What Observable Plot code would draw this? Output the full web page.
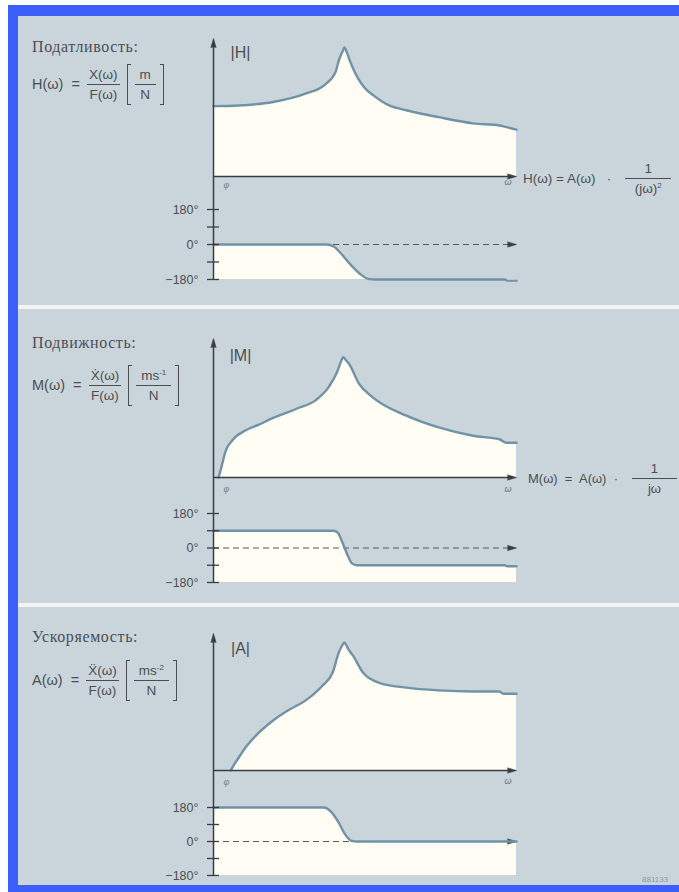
<!DOCTYPE html>
<html>
<head>
<meta charset="utf-8">
<script src="https://cdn.jsdelivr.net/npm/d3@7"></script>
<script src="https://cdn.jsdelivr.net/npm/@observablehq/plot@0.6"></script>
<style>
  body { margin:0; background:#fff; width:679px; height:892px; overflow:hidden; position:relative;
         font-family:"Liberation Sans", Arial, sans-serif; }
  #frame { position:absolute; left:8px; top:5px; width:671px; height:887px; background:#3c5ffb; }
  #inner { position:absolute; left:18px; top:16px; width:661px; height:869px; background:#f2f5f6; }
  .panel { position:absolute; left:0; width:661px; background:#cad5db; overflow:hidden; }
  .panel svg { position:absolute; left:0; top:0; overflow:visible; }
  .title { position:absolute; font-family:"Liberation Serif","DejaVu Serif",serif; font-size:16px; letter-spacing:0.6px; color:#4a4e51; white-space:nowrap; }
  .formula { position:absolute; display:flex; align-items:center; font-size:13px; color:#4a4e51; white-space:nowrap; }
  .formula.lf { font-size:14.5px; }
  .frac { display:inline-flex; flex-direction:column; align-items:center; margin:0 3px; }
  .frac .num { border-bottom:1px solid #4a4e51; padding:0 2px 2px; line-height:15px; }
  .frac .den { padding:2px 2px 0; line-height:15px; }
  .lf .frac { font-size:13.5px; }
  .bracket { position:relative; display:inline-flex; padding:0 5px; margin-left:4px; }
  .bracket::before, .bracket::after { content:""; position:absolute; top:-3px; bottom:-3px; width:3px; border:1px solid #4a4e51; }
  .bracket::before { left:0; border-right:none; }
  .bracket::after { right:0; border-left:none; }
  .bracket .frac .num { padding:0 5px 2px; }
  .wide .num { padding:0 19px 2px !important; }
  sup { font-size:8px; line-height:0; }
  .tiny { position:absolute; font-size:8px; color:#8b959b; }
</style>
</head>
<body>
<div id="frame"></div>
<div id="inner"></div>
<script>
// ---------- data (ω in arbitrary units 0..30, magnitude relative to axis top = 1) ----------
const hMagOmega = [0, 2.5, 5.9, 9.1, 11.1, 12.1, 12.4, 12.8, 12.95, 13.2, 13.5, 13.9, 14.4, 15.0, 15.8, 17.4, 19.1, 22.3, 25.7, 28.3, 28.9, 30];
const hMag      = [0.51, 0.515, 0.54, 0.60, 0.67, 0.76, 0.84, 0.91, 0.935, 0.90, 0.84, 0.77, 0.70, 0.64, 0.59, 0.515, 0.48, 0.43, 0.385, 0.37, 0.36, 0.34];

const mMagOmega = [0.5, 0.8, 1.2, 1.9, 3.2, 4.5, 5.8, 7.4, 8.4, 10.1, 11.4, 12.3, 12.6, 12.85, 13.1, 13.4, 14.4, 15.8, 19.1, 22.3, 25.7, 28.3, 29.0, 30];
const mMag      = [0, 0.08, 0.19, 0.27, 0.34, 0.38, 0.425, 0.47, 0.50, 0.555, 0.65, 0.77, 0.83, 0.865, 0.845, 0.82, 0.675, 0.575, 0.445, 0.36, 0.30, 0.275, 0.25, 0.25];

const aMagOmega = [1.7, 2.1, 2.5, 3.3, 4.2, 5.9, 7.4, 9.1, 10.8, 11.8, 12.4, 12.8, 12.95, 13.1, 13.4, 13.8, 14.8, 16.4, 19.1, 22.3, 25.7, 28.3, 28.7, 30];
const aMag      = [0, 0.05, 0.095, 0.18, 0.255, 0.365, 0.44, 0.51, 0.62, 0.715, 0.86, 0.92, 0.935, 0.92, 0.88, 0.84, 0.715, 0.64, 0.605, 0.585, 0.577, 0.577, 0.56, 0.56];

// phase in degrees
const hPhaseOmega = [0, 11.2, 11.9, 12.6, 13.6, 14.6, 15.4, 16.0, 28.8, 29.1, 30];
const hPhase      = [0, 0, -10, -45, -105, -155, -178, -180, -180, -186, -186];
const mPhaseOmega = [0, 11.9, 12.3, 12.8, 13.3, 13.7, 14.2, 28.8, 29.1, 30];
const mPhase      = [90, 90, 80, 25, -40, -80, -90, -90, -95, -95];
const aPhaseOmega = [0, 10.9, 11.6, 12.4, 13.0, 13.6, 14.2, 30];
const aPhase      = [180, 180, 160, 100, 40, 5, 0, 0];

const phaseTicks = [180, 90, 0, -90, -180];
const phaseTickLabels = ["180°", "", "0°", "", "−180°"];
const omegaDomain = [0, 30];

const titles = ["Податливость:", "Подвижность:", "Ускоряемость:"];
const magLabels = ["|H|", "|M|", "|A|"];

// ---------- styles ----------
const CREAM = "#fffdf4", CURVE = "#7092a6", AXIS = "#3a3d40", TXT = "#4a4e51";
const W = 661;

const zip = (xs, ys, k) => xs.map((x, i) => ({w: x, [k]: ys[i]}));

const panels = [
  {top:16, height:289, magTop:22, magBottom:129, phTop:193, phBottom:26, ext:33,
   mag: zip(hMagOmega, hMag, "v"), ph: zip(hPhaseOmega, hPhase, "p"),
   labDy: 8, phiDy: 11, omDy: 8},
  {top:309, height:294, magTop:29, magBottom:126, phTop:204, phBottom:21, ext:36,
   mag: zip(mMagOmega, mMag, "v"), ph: zip(mPhaseOmega, mPhase, "p"),
   labDy: 11, phiDy: 14, omDy: 14},
  {top:607, height:278, magTop:26, magBottom:115, phTop:200, phBottom:10, ext:37,
   mag: zip(aMagOmega, aMag, "v"), ph: zip(aPhaseOmega, aPhase, "p"),
   labDy: 9, phiDy: 14, omDy: 13}
];

function head(x, y, dir) {
  if (typeof Plot.spike === "function") {
    return Plot.vector([{x, y}], {x: "x", y: "y", shape: "spike", anchor: "end",
      length: 9, r: 2.6, rotate: dir === "up" ? 0 : 90, fill: AXIS, stroke: AXIS, strokeWidth: 0.6});
  }
  return Plot.text([{x, y}], {x: "x", y: "y", text: () => dir === "up" ? "▲" : "▶",
    fontSize: 8, fill: AXIS, dx: dir === "up" ? 0 : -3, dy: dir === "up" ? 3 : 0});
}

const inner = document.getElementById("inner");

panels.forEach((cfg, i) => {
  const div = document.createElement("div");
  div.className = "panel";
  div.style.top = (cfg.top - 16) + "px";
  div.style.height = cfg.height + "px";
  inner.appendChild(div);

  const common = {
    width: W, height: cfg.height, marginLeft: 195, marginRight: 163,
    style: {background: "transparent", fontFamily: "Liberation Sans, Arial, sans-serif", overflow: "visible"},
    x: {domain: omegaDomain, axis: null}
  };

  // vertical axis continues from the magnitude axis down through the phase scale
  const degPerPx = 360 / (cfg.height - cfg.phTop - cfg.phBottom);
  const axisTopPhase = 180 + cfg.ext * degPerPx;

  const mag = Plot.plot({
    ...common,
    marginTop: cfg.magTop, marginBottom: cfg.magBottom,
    y: {domain: [0, 1], axis: null},
    marks: [
      Plot.areaY(cfg.mag, {x: "w", y: "v", fill: CREAM, curve: "monotone-x"}),
      Plot.line(cfg.mag, {x: "w", y: "v", stroke: CURVE, strokeWidth: 2.4, curve: "monotone-x"}),
      Plot.ruleY([0], {x1: 0, x2: 29.4, stroke: AXIS, strokeWidth: 1.5}),
      head(30, 0, "right"),
      Plot.ruleX([0], {y1: 0, y2: 0.95, stroke: AXIS, strokeWidth: 1.5}),
      head(0, 1, "up"),
      Plot.text([magLabels[i]], {frameAnchor: "top-left", dx: 27, dy: cfg.labDy, fontSize: 16, fill: TXT, textAnchor: "middle"}),
      Plot.text(["φ"], {frameAnchor: "bottom-left", dx: 10, dy: cfg.phiDy, fontSize: 9, fill: "#7a8185", fontStyle: "italic"}),
      Plot.text(["ω"], {frameAnchor: "bottom-right", dx: -5, dy: cfg.omDy, fontSize: 9, fill: "#6a7175", fontStyle: "italic"})
    ]
  });

  const ph = Plot.plot({
    ...common,
    marginTop: cfg.phTop, marginBottom: cfg.phBottom,
    y: {domain: [-180, 180]},
    marks: [
      Plot.areaY(cfg.ph, {x: "w", y1: -180, y2: "p", fill: CREAM, curve: "monotone-x"}),
      Plot.ruleY([0], {x1: 0, x2: 29.4, stroke: "#555a5e", strokeWidth: 1.1, strokeDasharray: "6,4"}),
      head(30, 0, "right"),
      Plot.line(cfg.ph, {x: "w", y: "p", stroke: CURVE, strokeWidth: 2.4, curve: "monotone-x"}),
      Plot.ruleX([0], {y1: -180, y2: axisTopPhase, stroke: AXIS, strokeWidth: 1.5}),
      Plot.axisY(phaseTicks, {anchor: "left", tickSize: 12, dx: 6, tickPadding: 9,
        tickFormat: (d, k) => phaseTickLabels[k], fontSize: 12.5, fill: TXT, stroke: AXIS, strokeWidth: 1.3, label: null})
    ]
  });

  div.appendChild(mag);
  div.appendChild(ph);
});

// ---------- formula texts ----------
function addHTML(panelIdx, html) {
  inner.children[panelIdx].insertAdjacentHTML("beforeend", html);
}
const frac = (a, b, cls = "") => `<span class="frac ${cls}"><span class="num">${a}</span><span class="den">${b}</span></span>`;

addHTML(0, `<div class="title" style="left:14px;top:22px">${titles[0]}</div>
  <div class="formula lf" style="left:14px;top:48px;height:40px"><span>H(ω) &nbsp;=&nbsp;</span>${frac("X(ω)", "F(ω)")}<span class="bracket">${frac("m", "N")}</span></div>
  <div class="formula" style="left:505px;top:142px;height:40px;font-size:13.5px"><span>H(ω) = A(ω) &nbsp;&nbsp;·&nbsp;&nbsp;&nbsp;</span>${frac("1", "(jω)<sup>2</sup>", "wide")}</div>`);

addHTML(1, `<div class="title" style="left:14px;top:25px">${titles[1]}</div>
  <div class="formula lf" style="left:14px;top:56px;height:40px"><span>M(ω) &nbsp;=&nbsp;</span>${frac("X\u0307(ω)", "F(ω)")}<span class="bracket">${frac("ms<sup>-1</sup>", "N")}</span></div>
  <div class="formula" style="left:510px;top:149px;height:40px"><span>M(ω) &nbsp;=&nbsp; A(ω) &nbsp;·&nbsp;&nbsp;&nbsp;</span>${frac("1", "jω", "wide")}</div>`);

addHTML(2, `<div class="title" style="left:14px;top:21px">${titles[2]}</div>
  <div class="formula lf" style="left:14px;top:53px;height:40px"><span>A(ω) &nbsp;=&nbsp;</span>${frac("X\u0308(ω)", "F(ω)")}<span class="bracket">${frac("ms<sup>-2</sup>", "N")}</span></div>
  <div class="tiny" style="left:624px;top:268px">881133</div>`);
</script>
</body>
</html>
